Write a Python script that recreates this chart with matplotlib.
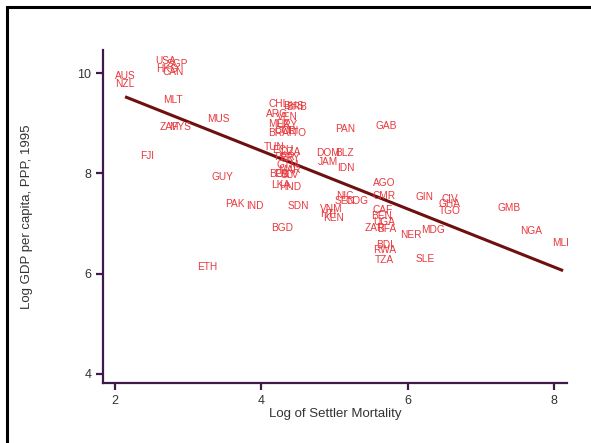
import numpy as np
import matplotlib.pyplot as plt
from matplotlib.patches import Rectangle

# country codes and values (log settler mortality, log GDP pc 1995)
codes = ['AUS', 'NZL', 'USA', 'SGP', 'HKG', 'CAN', 'MLT', 'ZAF', 'MYS', 'MUS',
         'FJI', 'GUY', 'PAK', 'IND', 'ETH', 'BGD', 'SDN',
         'CHL', 'BHS', 'BRB', 'ARG', 'VEN', 'MEX', 'URY', 'BRA', 'COL', 'CRI', 'TTO',
         'PAN', 'GAB', 'TUN', 'ECU', 'DZA', 'PER', 'PRY', 'GTM', 'MAR', 'BOL', 'EGY',
         'SLV', 'LKA', 'HND', 'DOM', 'BLZ', 'JAM', 'IDN', 'AGO', 'NIC', 'SEN', 'COG',
         'CMR', 'VNM', 'HTI', 'KEN', 'CAF', 'BEN', 'UGA', 'ZAR', 'BFA', 'NER', 'MDG',
         'BDI', 'RWA', 'TZA', 'SLE', 'GIN', 'CIV', 'GHA', 'TGO', 'GMB', 'NGA', 'MLI']
log_mort = [2.14, 2.14, 2.70, 2.86, 2.71, 2.80, 2.79, 2.75, 2.89, 3.42,
            2.44, 3.47, 3.64, 3.91, 3.26, 4.29, 4.51,
            4.24, 4.44, 4.48, 4.22, 4.36, 4.24, 4.35, 4.24, 4.32, 4.39, 4.48,
            5.14, 5.70, 4.18, 4.29, 4.39, 4.32, 4.39, 4.36, 4.39, 4.25, 4.32,
            4.39, 4.26, 4.39, 4.91, 5.14, 4.91, 5.16, 5.68, 5.14, 5.14, 5.30,
            5.68, 4.96, 4.91, 4.99, 5.66, 5.64, 5.68, 5.55, 5.71, 6.04, 6.35,
            5.68, 5.68, 5.68, 6.24, 6.23, 6.57, 6.57, 6.57, 7.38, 7.69, 8.08]
log_gdp = [9.94, 9.78, 10.24, 10.18, 10.08, 10.02, 9.46, 8.92, 8.92, 9.08,
           8.35, 7.93, 7.39, 7.35, 6.14, 6.91, 7.35,
           9.38, 9.34, 9.32, 9.18, 9.12, 8.98, 8.96, 8.80, 8.84, 8.84, 8.80,
           8.88, 8.94, 8.53, 8.47, 8.43, 8.33, 8.31, 8.17, 8.07, 7.99, 7.99,
           7.97, 7.77, 7.73, 8.41, 8.41, 8.23, 8.11, 7.81, 7.55, 7.45, 7.45,
           7.55, 7.29, 7.19, 7.11, 7.27, 7.15, 7.03, 6.91, 6.89, 6.77, 6.87,
           6.57, 6.47, 6.27, 6.29, 7.53, 7.49, 7.39, 7.25, 7.31, 6.85, 6.61]

# fitted line
fit_range = [2.16, 8.1]
fit_intercept = 10.77
fit_slope = -0.58

x_ticks = [2, 4, 6, 8]
y_ticks = [4, 6, 8, 10]

spine_col = '#3d1a4a'
label_col = '#e8383d'

fig = plt.figure(figsize=(5.91, 4.43), dpi=100)
ax = fig.add_axes([0.1743, 0.1354, 0.7847, 0.7517])

for c, x, y in zip(codes, log_mort, log_gdp):
    ax.text(x, y, c, color=label_col, fontsize=7.3, ha='center', va='center',
            family='Liberation Sans')

fx = np.array(fit_range)
ax.plot(fx, fit_intercept + fit_slope * fx, color='#6e1010', lw=2.2)

ax.set_xlim(1.84, 8.17)
ax.set_ylim(3.82, 10.46)
ax.set_xticks(x_ticks)
ax.set_yticks(y_ticks)
for s in ['top', 'right']:
    ax.spines[s].set_visible(False)
for s in ['left', 'bottom']:
    ax.spines[s].set_color(spine_col)
    ax.spines[s].set_linewidth(1.6)
ax.tick_params(color=spine_col, width=1.6, length=5, labelsize=9, labelcolor='#333333')
for t in ax.get_xticklabels() + ax.get_yticklabels():
    t.set_family('Liberation Sans')

ax.set_xlabel('Log of Settler Mortality', fontsize=9.5, color='#333333',
              family='Liberation Sans', labelpad=1)
ax.set_ylabel('Log GDP per capita, PPP, 1995', fontsize=9.5, color='#333333',
              family='Liberation Sans', labelpad=32)

# outer frame (left and top edges visible)
fig.patches.append(Rectangle((7 / 591, -0.1), 1.2, 1.1 - 7 / 443, transform=fig.transFigure,
                             fill=False, edgecolor='black', lw=2.2))

fig.savefig('out.png', dpi=100)
